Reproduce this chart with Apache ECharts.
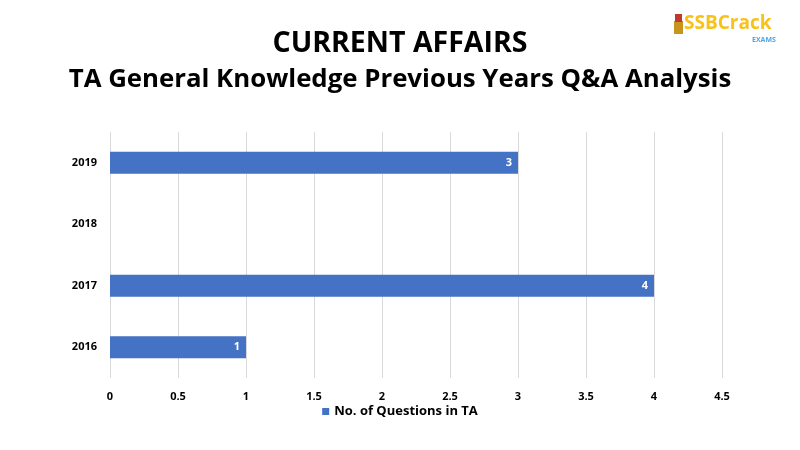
<!DOCTYPE html>
<html><head><meta charset="utf-8">
<script src="https://cdn.jsdelivr.net/npm/echarts@6/dist/echarts.min.js"></script>
<style>html,body{margin:0;padding:0;background:#fff}#c{width:800px;height:450px}</style>
</head><body><div id="c"></div>
<script>
const categories = ['2016', '2017', '2018', '2019'];
const values = [1, 4, null, 3];
const seriesName = 'No. of Questions in TA';
const titleText = 'CURRENT AFFAIRS';
const subtitleText = 'TA General Knowledge Previous Years Q&A Analysis';

const chart = echarts.init(document.getElementById('c'));
const font = 'Open Sans';
chart.setOption({
  backgroundColor: '#fff',
  animation: false,
  title: [
    {text: titleText, left: 'center', top: 24, textStyle: {fontFamily: font, fontSize: 28.5, fontWeight: 'bold', color: '#000'}},
    {text: subtitleText, left: 'center', top: 62, textStyle: {fontFamily: font, fontSize: 25.8, fontWeight: 'bold', color: '#000'}}
  ],
  graphic: [
    {type: 'rect', shape: {x: 674, y: 21, width: 9, height: 13}, style: {fill: '#c8941e'}},
    {type: 'rect', shape: {x: 675, y: 14, width: 7, height: 8}, style: {fill: '#c0392b'}},
    {type: 'text', style: {x: 684, y: 14, text: 'SSBCrack', font: 'bold 19px "Open Sans"', fill: '#f7c21a'}},
    {type: 'text', style: {x: 752, y: 36, text: 'EXAMS', font: 'bold 7px "Open Sans"', fill: '#4aa8e8'}}
  ],
  legend: {
    bottom: 27, left: 'center', itemWidth: 7, itemHeight: 7, icon: 'rect', itemGap: 4,
    textStyle: {fontFamily: font, fontSize: 13, color: '#000', fontWeight: 'bold'}
  },
  grid: {left: 110, right: 78, top: 132, bottom: 72},
  xAxis: {
    type: 'value', min: 0, max: 4.5, interval: 0.5,
    axisLine: {show: false}, axisTick: {show: false},
    splitLine: {lineStyle: {color: '#d9d9d9', width: 1}},
    axisLabel: {fontFamily: font, fontSize: 11, fontWeight: 'bold', color: '#000', margin: 13}
  },
  yAxis: {
    type: 'category', data: categories,
    axisLine: {show: false}, axisTick: {show: false},
    axisLabel: {fontFamily: font, fontSize: 11, fontWeight: 'bold', color: '#000', margin: 13}
  },
  series: [{
    type: 'bar', name: seriesName, data: values, barWidth: 22,
    itemStyle: {color: '#4472c4'},
    label: {show: true, position: 'insideRight', color: '#fff', fontFamily: font, fontSize: 11, fontWeight: 'bold', distance: 6}
  }]
});
</script></body></html>
